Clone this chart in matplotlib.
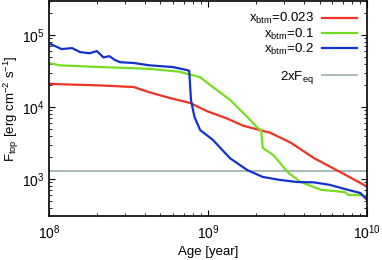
import numpy as np
import matplotlib.pyplot as plt
from matplotlib.lines import Line2D

plt.rcParams['font.family'] = ['Liberation Sans', 'DejaVu Sans']
plt.rcParams['mathtext.fontset'] = 'custom'
plt.rcParams['mathtext.rm'] = 'Liberation Sans'
plt.rcParams['mathtext.it'] = 'Liberation Sans'

# x_btm = 0.023
age_red = [1e8, 2.1e8, 3.4e8, 4.3e8, 5.8e8, 7.7e8, 9.8e8, 1.3e9, 1.66e9, 2.45e9,
           3.3e9, 4.6e9, 6.7e9, 1e10]
f_red = [2.1e4, 2.0e4, 1.9e4, 1.6e4, 1.33e4, 1.14e4, 8.8e3, 7.0e3, 5.5e3, 4.4e3,
         3.2e3, 1.96e3, 1.26e3, 780]

# x_btm = 0.1
age_green = [1e8, 1.17e8, 2.1e8, 4.3e8, 6.6e8, 8.9e8, 1.07e9, 1.37e9, 1.76e9, 2.05e9,
             2.15e9, 2.2e9, 2.57e9, 3.15e9, 3.8e9, 5.1e9, 7.2e9, 7.6e9, 9.3e9, 1e10]
f_green = [4.1e4, 3.8e4, 3.6e4, 3.4e4, 3.1e4, 2.6e4, 1.9e4, 1.26e4, 7.3e3, 5.1e3,
           4.8e3, 2.7e3, 2.15e3, 1.25e3, 910, 710, 660, 600, 600, 550]

# x_btm = 0.2
age_blue = [1e8, 1.2e8, 1.4e8, 1.57e8, 1.8e8, 2.0e8, 2.2e8, 2.4e8, 2.6e8, 2.8e8,
            3.4e8, 4.3e8, 6.0e8, 7.2e8, 7.6e8, 7.8e8, 8.2e8, 8.9e8, 1.07e9, 1.37e9,
            1.76e9, 2.2e9, 2.8e9, 3.6e9, 4.6e9, 5.8e9, 7.5e9, 9.0e9, 1e10]
f_blue = [7.7e4, 6.4e4, 6.6e4, 5.8e4, 5.6e4, 6.0e4, 4.9e4, 5.1e4, 4.5e4, 4.2e4,
          4.1e4, 3.8e4, 3.6e4, 3.3e4, 3.2e4, 1.25e4, 7.3e3, 4.8e3, 3.5e3, 1.95e3,
          1.33e3, 1.07e3, 975, 910, 900, 830, 710, 640, 510]

f_eq2 = 1290

fig = plt.figure(figsize=(3.82, 2.60), dpi=100)
ax = fig.add_axes([0.128, 0.169, 0.834, 0.828])

ax.axhline(f_eq2, color='#9fb3b3', lw=1.3, zorder=1)
ax.plot(age_red, f_red, color='#ee3322', lw=1.6)
ax.plot(age_green, f_green, color='#77dd22', lw=1.6)
ax.plot(age_blue, f_blue, color='#1133cc', lw=1.6)

ax.set_xscale('log')
ax.set_yscale('log')
ax.set_xlim(1e8, 1e10)
ax.set_ylim(306, 3e5)
ax.tick_params(which='both', direction='in', top=True, right=True, labelsize=10)
ax.tick_params(which='major', length=4, width=0.8)
ax.tick_params(which='minor', length=2, width=0.6)
ax.tick_params(axis='x', pad=5)
ax.tick_params(axis='y', pad=3)
for s in ax.spines.values():
    s.set_linewidth(1.2)

ax.set_xlabel('Age [year]', fontsize=9.5, labelpad=3)
ax.set_ylabel(r'F$_{\rm top}$ [erg cm$^{-2}$ s$^{-1}$]', fontsize=9.5, labelpad=1)

handles = [Line2D([], [], color='#ee3322', lw=1.6),
           Line2D([], [], color='#77dd22', lw=1.6),
           Line2D([], [], color='#1133cc', lw=1.6),
           Line2D([], [], color='none'),
           Line2D([], [], color='#9fb3b3', lw=1.3)]
labels = [r'x$_{\rm btm}$=0.023', r'x$_{\rm btm}$=0.1', r'x$_{\rm btm}$=0.2', ' ',
          r'2xF$_{\rm eq}$']
ax.legend(handles, labels, loc='upper right', frameon=False, markerfirst=False,
          fontsize=9.5, handlelength=2.65, labelspacing=0.0, borderaxespad=0.5,
          handletextpad=0.6, borderpad=0.3)

fig.savefig('out.png', dpi=100)
